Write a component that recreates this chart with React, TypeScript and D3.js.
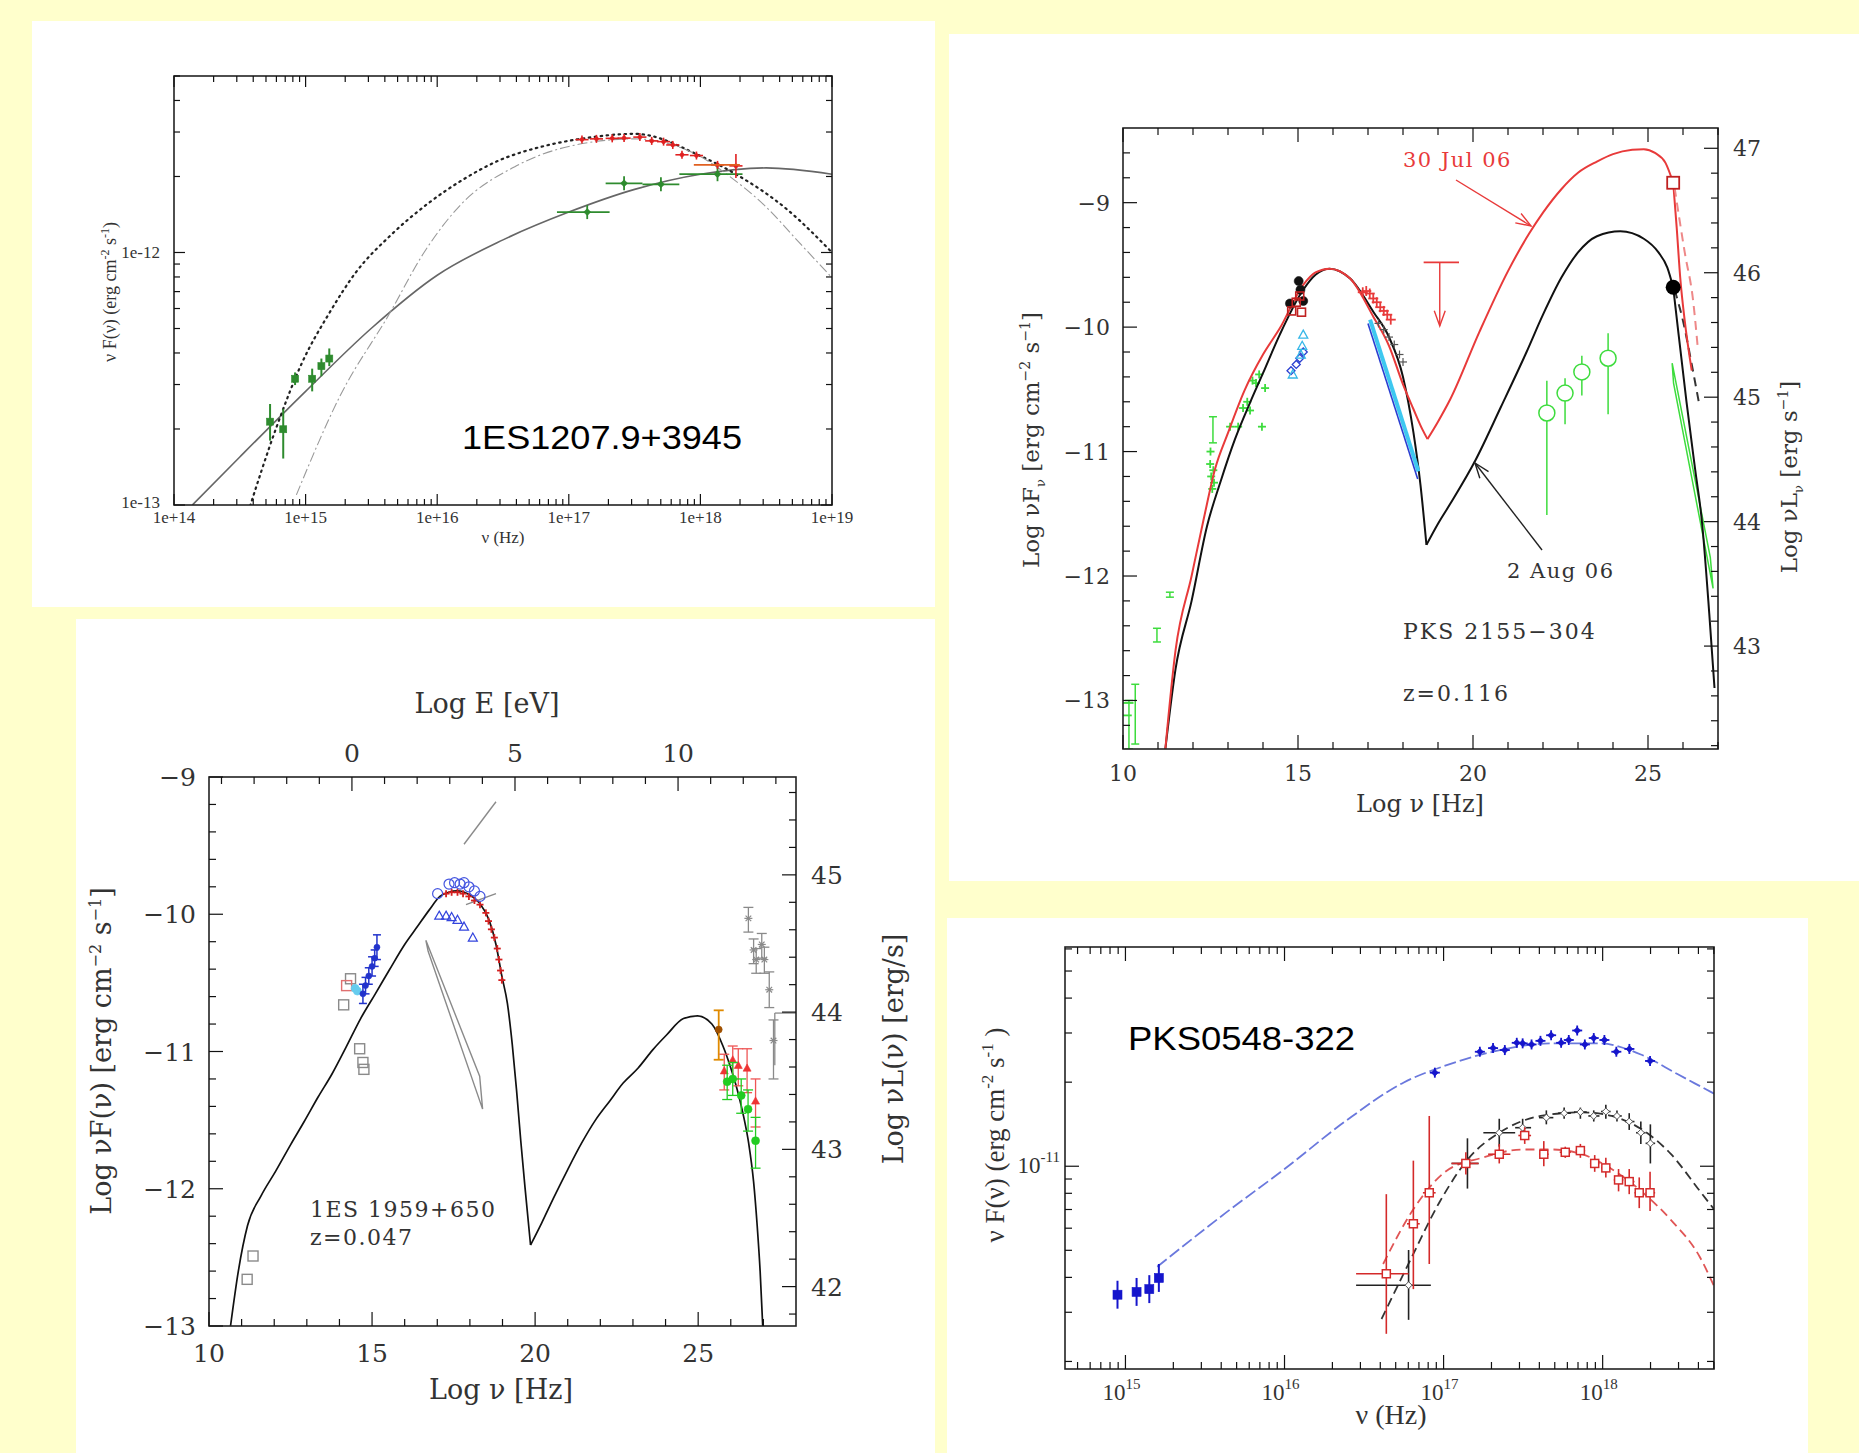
import React from 'react';
import * as d3 from 'd3';

type Pt = [number, number];
type Frame = { l: number; r: number; t: number; b: number };

const W = 1859;
const H = 1453;
const BG = '#ffffcc';

// ---------- Panel A : 1ES1207.9+3945  (log nu, log nuFnu) ----------
const aSolid: Pt[] = [[14.14, -13.0], [14.5, -12.81], [15.0, -12.55], [15.5, -12.3], [16.0, -12.09], [16.5, -11.95], [17.0, -11.84], [17.5, -11.75], [18.0, -11.69], [18.5, -11.665], [19.0, -11.69]];
const aDotted: Pt[] = [[14.55, -13.05], [14.78, -12.69], [14.97, -12.44], [15.18, -12.24], [15.38, -12.08], [15.65, -11.93], [15.92, -11.81], [16.2, -11.71], [16.45, -11.64], [16.8, -11.58], [17.09, -11.55], [17.5, -11.53], [18.01, -11.62], [18.27, -11.69], [18.66, -11.83], [19.0, -12.0]];
const aDashDot: Pt[] = [[14.93, -12.96], [15.26, -12.57], [15.64, -12.24], [15.9, -12.0], [16.18, -11.81], [16.59, -11.66], [17.0, -11.58], [17.5, -11.55], [18.0, -11.62], [18.2, -11.69], [18.5, -11.82], [18.75, -11.96], [19.0, -12.1]];
// [log nu, log F, lo, hi]
const aOptical = [[14.73, -12.67, -12.745, -12.6], [14.83, -12.7, -12.816, -12.62], [14.92, -12.5, -12.525, -12.475], [15.05, -12.5, -12.55, -12.46], [15.12, -12.45, -12.49, -12.42], [15.18, -12.42, -12.45, -12.38]];
// [log nu, log F, nu lo, nu hi]
const aXrayLow = [[17.14, -11.84, 16.91, 17.31], [17.42, -11.726, 17.28, 17.56], [17.7, -11.73, 17.56, 17.84], [18.13, -11.69, 17.84, 18.32]];
const aXrayHigh = [[17.1, -11.553], [17.21, -11.55], [17.33, -11.548], [17.42, -11.547], [17.54, -11.543], [17.63, -11.558], [17.72, -11.561], [17.79, -11.574], [17.86, -11.613], [17.97, -11.616], [18.13, -11.653], [18.27, -11.657]];
const aXLabels = ['1e+14', '1e+15', '1e+16', '1e+17', '1e+18', '1e+19'];
const aYLabels = ['1e-13', '1e-12'];

// ---------- Panel B : PKS 2155-304 ----------
const bRedSync: Pt[] = [[11.21, -13.39], [11.5, -12.6], [11.96, -12.0], [12.3, -11.55], [12.63, -11.14], [13.0, -10.85], [13.47, -10.51], [14.0, -10.22], [14.48, -10.01], [15.15, -9.66], [15.5, -9.56], [15.9, -9.53], [16.49, -9.61], [17.16, -9.92], [17.6, -10.15], [18.0, -10.46], [18.3, -10.66], [18.55, -10.82], [18.7, -10.9]];
const bRedIC: Pt[] = [[18.7, -10.9], [19.0, -10.76], [19.35, -10.58], [20.18, -10.04], [21.0, -9.55], [21.6, -9.25], [22.0, -9.08], [22.53, -8.89], [23.0, -8.76], [23.54, -8.67], [24.0, -8.61], [24.55, -8.575], [24.88, -8.57], [25.2, -8.6], [25.5, -8.68], [25.72, -8.84]];
const bRedTail: Pt[] = [[25.72, -8.84], [25.82, -9.2], [25.92, -9.6], [26.05, -9.95], [26.25, -10.35]];
const bRedTailDash: Pt[] = [[25.76, -8.88], [26.05, -9.4], [26.29, -9.79], [26.43, -10.19]];
const bBlackSync: Pt[] = [[11.21, -13.39], [11.5, -12.75], [11.96, -12.2], [12.4, -11.6], [12.8, -11.23], [13.2, -10.9], [13.64, -10.6], [14.0, -10.37], [14.48, -10.06], [15.15, -9.7], [15.5, -9.58], [15.9, -9.53], [16.49, -9.61], [17.16, -9.88], [17.6, -10.08], [18.0, -10.4], [18.3, -10.85], [18.5, -11.27], [18.67, -11.75]];
const bBlackIC: Pt[] = [[18.67, -11.75], [19.0, -11.58], [19.35, -11.42], [20.07, -11.07], [20.8, -10.64], [21.53, -10.2], [22.0, -9.9], [22.53, -9.6], [23.0, -9.4], [23.54, -9.27], [24.21, -9.23], [24.88, -9.29], [25.3, -9.4], [25.55, -9.52], [25.72, -9.68]];
const bBlackTail: Pt[] = [[25.72, -9.68], [25.85, -10.0], [26.1, -10.6], [26.35, -11.15], [26.54, -11.56], [26.75, -12.3], [26.9, -12.9]];
const bBlackTailDash: Pt[] = [[25.76, -9.7], [26.0, -9.95], [26.25, -10.3], [26.45, -10.6]];
const bBlueLine: Pt[] = [[17.0, -9.97], [18.42, -11.22]];
const bCyanLine: Pt[] = [[17.06, -9.94], [18.44, -11.16]];
const bGreenWedge: Pt[] = [[25.69, -10.29], [26.78, -11.85], [26.86, -12.1], [25.73, -10.45]];
const bGreenCircles = [[22.11, -10.69, -11.51, -10.43], [22.63, -10.53, -10.78, -10.41], [23.11, -10.36, -10.55, -10.23], [23.86, -10.25, -10.7, -10.05]];
const bGreenBeams = [[12.57, -10.84, -10.93, -10.72], [10.97, -12.47, -12.53, -12.42], [11.34, -12.15, -12.17, -12.13], [10.35, -13.05, -13.35, -12.87], [10.17, -13.15, -13.39, -13.0]];
const bGreenRadioH = [[10.0, 10.3, -13.02], [10.0, 10.25, -13.12]];
const bGreenIR: Pt[] = [[12.49, -11.1], [12.52, -11.2], [12.55, -11.3], [12.5, -11.0], [12.58, -11.15], [12.6, -11.25], [13.06, -10.8], [13.29, -10.8], [13.43, -10.65], [13.55, -10.6], [13.63, -10.67], [13.7, -10.43], [13.89, -10.38], [14.06, -10.49], [13.97, -10.8], [13.8, -10.45]];
const bBlackDots: Pt[] = [[14.77, -9.81], [15.02, -9.63], [15.15, -9.79], [15.07, -9.7]];
const bRedSquares: Pt[] = [[14.82, -9.87], [15.1, -9.88], [15.05, -9.75], [14.95, -9.8]];
const bCyanTri: Pt[] = [[15.15, -10.06], [15.12, -10.15], [15.08, -10.22], [14.85, -10.38]];
const bBlueDiam: Pt[] = [[14.8, -10.35], [14.95, -10.3], [15.05, -10.25], [15.15, -10.2]];
const bRedX: Pt[] = [[16.85, -9.72], [16.95, -9.71], [17.05, -9.73], [17.15, -9.77], [17.25, -9.8], [17.35, -9.84], [17.45, -9.87], [17.55, -9.9], [17.65, -9.94]];
const bGrayX: Pt[] = [[17.3, -9.97], [17.45, -10.02], [17.6, -10.08], [17.75, -10.14], [17.9, -10.22], [18.0, -10.28]];
const bUpperLimit = [18.59, 19.6, 19.05, -9.48, -9.99];
const bRedTeV: Pt = [25.72, -8.84];
const bBlackTeV: Pt = [25.72, -9.68];
const bLeftTicks = [-13, -12, -11, -10, -9];
const bRightTicks = [43, 44, 45, 46, 47];
const bXTicks = [10, 15, 20, 25];

// ---------- Panel C : 1ES 1959+650 ----------
const cSync: Pt[] = [[10.66, -13.0], [10.9, -12.6], [11.18, -12.27], [11.6, -12.05], [12.05, -11.87], [12.5, -11.68], [12.92, -11.51], [13.35, -11.33], [13.78, -11.16], [14.2, -10.97], [14.65, -10.76], [15.1, -10.58], [15.52, -10.41], [16.0, -10.22], [16.39, -10.09], [16.75, -9.97], [17.08, -9.87], [17.35, -9.84], [17.6, -9.83], [18.0, -9.86], [18.3, -9.92], [18.6, -10.05], [18.8, -10.22], [18.98, -10.45], [19.15, -10.65], [19.3, -10.95], [19.43, -11.28], [19.56, -11.65], [19.69, -11.99], [19.86, -12.41]];
const cIC: Pt[] = [[19.86, -12.41], [20.2, -12.25], [20.56, -12.07], [21.0, -11.86], [21.42, -11.67], [21.85, -11.5], [22.29, -11.36], [22.7, -11.23], [23.16, -11.12], [23.6, -10.99], [24.03, -10.88], [24.55, -10.76], [24.98, -10.74], [25.42, -10.8], [25.76, -10.96], [26.0, -11.12], [26.2, -11.28], [26.4, -11.48], [26.55, -11.67], [26.7, -11.95], [26.81, -12.27], [26.9, -12.6], [26.98, -13.0]];
const cBowTie: Pt[] = [[16.65, -10.19], [18.3, -11.18], [18.39, -11.42], [16.72, -10.27]];
const cGrayLine1: Pt[] = [[17.82, -9.49], [18.8, -9.18]];
const cGrayLine2: Pt[] = [[17.88, -9.93], [18.8, -9.85]];
const cBlueCircles: Pt[] = [[17.01, -9.85], [17.36, -9.78], [17.53, -9.77], [17.7, -9.78], [17.82, -9.77], [17.97, -9.8], [18.14, -9.83], [18.31, -9.87]];
const cBlueTri: Pt[] = [[17.06, -10.01], [17.27, -10.01], [17.44, -10.02], [17.62, -10.04], [17.82, -10.09], [18.09, -10.17]];
const cRedX: Pt[] = [[17.27, -9.85], [17.44, -9.84], [17.62, -9.84], [17.79, -9.85], [17.97, -9.87], [18.14, -9.9], [18.31, -9.93], [18.49, -9.99], [18.57, -10.05], [18.66, -10.11], [18.75, -10.17], [18.84, -10.25], [18.89, -10.33], [18.94, -10.41], [18.98, -10.48]];
const cBlueOpt = [[14.72, -10.58, 0.07], [14.8, -10.52, 0.06], [14.9, -10.45, 0.06], [15.0, -10.38, 0.07], [15.08, -10.32, 0.06], [15.15, -10.24, 0.09]];
const cCyanOpt: Pt[] = [[14.48, -10.54], [14.55, -10.56]];
const cGraySquares: Pt[] = [[14.13, -10.66], [14.34, -10.47], [14.62, -10.98], [14.72, -11.08], [14.75, -11.13], [11.17, -12.66], [11.35, -12.49]];
const cRedSquares: Pt[] = [[14.22, -10.52]];
const cOrange = [[25.63, -10.84, -11.06, -10.7]];
const cRedTri = [[25.8, -11.14, -11.28, -11.02], [26.06, -11.06, -11.2, -10.96], [26.23, -11.1, -11.25, -10.98], [26.5, -11.12, -11.3, -10.98], [26.76, -11.36, -11.55, -11.2]];
const cGreenDots = [[25.89, -11.22, -11.35, -11.1], [26.06, -11.2, -11.32, -11.08], [26.32, -11.32, -11.45, -11.2], [26.53, -11.42, -11.58, -11.28], [26.76, -11.65, -11.85, -11.48]];
const cGrayStars = [[26.54, -10.03, -10.13, -9.95], [26.7, -10.26, -10.36, -10.18], [26.78, -10.33, -10.43, -10.25], [26.95, -10.22, -10.32, -10.14], [27.03, -10.33, -10.43, -10.24], [27.18, -10.55, -10.68, -10.42], [27.31, -10.92, -11.2, -10.77]];
const cLeftTicks = [-13, -12, -11, -10, -9];
const cRightTicks = [42, 43, 44, 45];
const cXTicks = [10, 15, 20, 25];
const cTopTicks = [0, 5, 10];

// ---------- Panel D : PKS0548-322 ----------
const dBlueModel: Pt[] = [[15.2, -11.36], [15.63, -11.167], [16.0, -11.01], [16.38, -10.84], [16.75, -10.7], [17.01, -10.64], [17.31, -10.59], [17.68, -10.56], [17.98, -10.56], [18.24, -10.6], [18.47, -10.67], [18.7, -10.74]];
const dBlackModel: Pt[] = [[16.61, -11.547], [16.79, -11.337], [16.975, -11.128], [17.16, -10.97], [17.35, -10.88], [17.61, -10.82], [17.87, -10.807], [18.056, -10.82], [18.24, -10.866], [18.43, -10.957], [18.61, -11.088], [18.7, -11.154]];
const dRedModel: Pt[] = [[16.62, -11.35], [16.81, -11.154], [17.01, -11.02], [17.24, -10.97], [17.5, -10.94], [17.68, -10.94], [17.87, -10.957], [18.056, -11.01], [18.24, -11.088], [18.43, -11.193], [18.61, -11.324], [18.7, -11.429]];
const dBlueOpt = [[14.95, -11.46, 0.05], [15.07, -11.45, 0.05], [15.15, -11.44, 0.05], [15.21, -11.4, 0.05]];
const dBlueX: Pt[] = [[16.945, -10.665], [17.228, -10.59], [17.311, -10.577], [17.385, -10.584], [17.46, -10.558], [17.497, -10.56], [17.553, -10.564], [17.609, -10.551], [17.676, -10.531], [17.739, -10.558], [17.787, -10.548], [17.84, -10.514], [17.888, -10.564], [17.944, -10.541], [18.011, -10.548], [18.086, -10.59], [18.168, -10.58], [18.298, -10.623]];
// [log nu, log F, nu lo, nu hi, F lo, F hi]
const dRed = [[16.64, -11.385, 16.45, 16.78, -11.6, -11.1], [16.81, -11.206, 16.77, 16.85, -11.44, -10.98], [16.91, -11.095, 16.87, 16.95, -11.35, -10.82], [17.14, -10.99, 17.05, 17.22, -11.03, -10.95], [17.35, -10.957, 17.28, 17.42, -10.99, -10.92], [17.51, -10.89, 17.47, 17.55, -10.92, -10.86], [17.63, -10.957, 17.6, 17.66, -11.0, -10.91], [17.765, -10.95, 17.73, 17.8, -10.97, -10.93], [17.86, -10.944, 17.83, 17.89, -10.97, -10.92], [17.95, -10.99, 17.92, 17.98, -11.02, -10.96], [18.02, -11.006, 17.99, 18.05, -11.04, -10.97], [18.1, -11.049, 18.07, 18.13, -11.09, -11.01], [18.167, -11.055, 18.14, 18.2, -11.1, -11.01], [18.23, -11.095, 18.2, 18.26, -11.15, -11.04], [18.298, -11.095, 18.27, 18.33, -11.16, -11.02]];
const dBlack = [[16.78, -11.426, 16.45, 16.92, -11.55, -11.3], [17.15, -10.99, 17.05, 17.22, -11.08, -10.9], [17.35, -10.88, 17.25, 17.45, -10.93, -10.83], [17.497, -10.862, 17.45, 17.55, -10.89, -10.83], [17.646, -10.826, 17.6, 17.69, -10.85, -10.8], [17.758, -10.81, 17.72, 17.8, -10.83, -10.79], [17.86, -10.806, 17.82, 17.9, -10.83, -10.79], [17.944, -10.82, 17.91, 17.98, -10.84, -10.8], [18.02, -10.804, 17.99, 18.05, -10.83, -10.78], [18.09, -10.82, 18.06, 18.12, -10.84, -10.8], [18.167, -10.84, 18.14, 18.2, -10.87, -10.81], [18.24, -10.88, 18.21, 18.27, -10.92, -10.84], [18.3, -10.918, 18.27, 18.33, -10.99, -10.85]];
const dXTicks = [15, 16, 17, 18];

// ---------- helpers ----------
const clipId = (n: string) => `clip-${n}`;

function tickLines(side: string, pos: number[], len: number, f: Frame, k: string, w = 1.2, color = '#111') {
  return pos.map((p, i) => {
    let a = { x1: 0, y1: 0, x2: 0, y2: 0 };
    if (side === 'bottom') a = { x1: p, x2: p, y1: f.b, y2: f.b - len };
    if (side === 'top') a = { x1: p, x2: p, y1: f.t, y2: f.t + len };
    if (side === 'left') a = { x1: f.l, x2: f.l + len, y1: p, y2: p };
    if (side === 'right') a = { x1: f.r, x2: f.r - len, y1: p, y2: p };
    return <line key={`${k}${i}`} {...a} stroke={color} strokeWidth={w} />;
  });
}

function marker(kind: string, cx: number, cy: number, s: number, color: string, key: string, sw = 1.3) {
  const open = { fill: 'none', stroke: color, strokeWidth: sw };
  const full = { fill: color, stroke: color, strokeWidth: 0.6 };
  switch (kind) {
    case 'sq': return <rect key={key} x={cx - s} y={cy - s} width={2 * s} height={2 * s} {...full} />;
    case 'osq': return <rect key={key} x={cx - s} y={cy - s} width={2 * s} height={2 * s} {...open} />;
    case 'dot': return <circle key={key} cx={cx} cy={cy} r={s} {...full} />;
    case 'odot': return <circle key={key} cx={cx} cy={cy} r={s} {...open} />;
    case 'tri': return <path key={key} d={`M${cx},${cy - s}L${cx + s},${cy + s * 0.8}L${cx - s},${cy + s * 0.8}Z`} {...full} />;
    case 'otri': return <path key={key} d={`M${cx},${cy - s}L${cx + s},${cy + s * 0.8}L${cx - s},${cy + s * 0.8}Z`} {...open} />;
    case 'diam': return <path key={key} d={`M${cx},${cy - s}L${cx + s},${cy}L${cx},${cy + s}L${cx - s},${cy}Z`} {...full} />;
    case 'odiam': return <path key={key} d={`M${cx},${cy - s}L${cx + s},${cy}L${cx},${cy + s}L${cx - s},${cy}Z`} {...open} fill="#fff" />;
    case 'star':
      return (
        <g key={key} stroke={color} strokeWidth={1.2}>
          <line x1={cx - s} x2={cx + s} y1={cy} y2={cy} />
          <line x1={cx - s * 0.7} x2={cx + s * 0.7} y1={cy - s * 0.7} y2={cy + s * 0.7} />
          <line x1={cx - s * 0.7} x2={cx + s * 0.7} y1={cy + s * 0.7} y2={cy - s * 0.7} />
        </g>
      );
    default:
      return (
        <g key={key} stroke={color} strokeWidth={sw}>
          <line x1={cx - s} x2={cx + s} y1={cy} y2={cy} />
          <line x1={cx} x2={cx} y1={cy - s} y2={cy + s} />
        </g>
      );
  }
}

function vbar(x: number, y1: number, y2: number, color: string, key: string, cap = 0, w = 1.4) {
  return (
    <g key={key} stroke={color} strokeWidth={w}>
      <line x1={x} x2={x} y1={y1} y2={y2} />
      {cap > 0 && <line x1={x - cap} x2={x + cap} y1={y1} y2={y1} />}
      {cap > 0 && <line x1={x - cap} x2={x + cap} y1={y2} y2={y2} />}
    </g>
  );
}

function hbar(x1: number, x2: number, y: number, color: string, key: string, w = 1.4) {
  return <line key={key} x1={x1} x2={x2} y1={y} y2={y} stroke={color} strokeWidth={w} />;
}

function arrow(x1: number, y1: number, x2: number, y2: number, color: string, key: string) {
  const ang = Math.atan2(y2 - y1, x2 - x1);
  const L = 16, sp = 0.35;
  const p1 = [x2 - L * Math.cos(ang - sp), y2 - L * Math.sin(ang - sp)];
  const p2 = [x2 - L * Math.cos(ang + sp), y2 - L * Math.sin(ang + sp)];
  return (
    <g key={key} stroke={color} strokeWidth={1.4} fill="none">
      <line x1={x1} y1={y1} x2={x2} y2={y2} />
      <polyline points={`${p1[0]},${p1[1]} ${x2},${y2} ${p2[0]},${p2[1]}`} />
    </g>
  );
}

const serif = 'DejaVu Serif';
const times = 'Liberation Serif';

// ---------- Panel A ----------
function PanelA() {
  const f: Frame = { l: 174, r: 832, t: 76, b: 505 };
  const x = d3.scaleLog().domain([1e14, 1e19]).range([f.l, f.r]);
  const y = d3.scaleLog().domain([1e-13, 5e-12]).range([f.b, f.t]);
  const X = (v: number) => x(10 ** v);
  const Y = (v: number) => y(10 ** v);
  const line = d3.line<Pt>().x(d => X(d[0])).y(d => Y(d[1])).curve(d3.curveMonotoneX);
  const xt = x.ticks();
  const yt = y.ticks();
  const isMajor = (v: number) => Math.abs(Math.log10(v) - Math.round(Math.log10(v))) < 1e-6;
  const xMaj = xt.filter(isMajor).map(v => x(v));
  const xMin = xt.filter(v => !isMajor(v)).map(v => x(v));
  const yMaj = yt.filter(isMajor).map(v => y(v));
  const yMin = yt.filter(v => !isMajor(v)).map(v => y(v));
  const green = '#2e8b2e';
  const red = '#e02020';
  return (
    <g>
      <rect x={32} y={21} width={903} height={586} fill="#fff" />
      <defs>
        <clipPath id={clipId('a')}><rect x={f.l} y={f.t} width={f.r - f.l} height={f.b - f.t} /></clipPath>
      </defs>
      <g clipPath={`url(#${clipId('a')})`} fill="none">
        <path d={line(aSolid) || ''} stroke="#666" strokeWidth={1.6} />
        <path d={line(aDotted) || ''} stroke="#222" strokeWidth={2.2} strokeDasharray="1.5,4.5" strokeLinecap="round" />
        <path d={line(aDashDot) || ''} stroke="#999" strokeWidth={1.1} strokeDasharray="10,3,2,3" />
      </g>
      {aOptical.map((d, i) => (
        <g key={`ao${i}`}>
          {vbar(X(d[0]), Y(d[2]), Y(d[3]), green, `aov${i}`, 0, 2)}
          {marker('sq', X(d[0]), Y(d[1]), 3.5, green, `aom${i}`)}
        </g>
      ))}
      {aXrayLow.map((d, i) => (
        <g key={`ax${i}`}>
          {hbar(X(d[2]), X(d[3]), Y(d[1]), green, `axh${i}`, 1.8)}
          {vbar(X(d[0]), Y(d[1]) - 7, Y(d[1]) + 7, green, `axv${i}`, 0, 1.8)}
          {marker('diam', X(d[0]), Y(d[1]), 3.5, green, `axm${i}`)}
        </g>
      ))}
      {aXrayHigh.map((d, i) => (
        <g key={`ar${i}`}>
          {hbar(X(d[0] - 0.05), X(d[0] + 0.05), Y(d[1]), red, `arh${i}`, 1.6)}
          {vbar(X(d[0]), Y(d[1]) - (i === 11 ? 12 : 4), Y(d[1]) + (i === 11 ? 12 : 4), red, `arv${i}`, 0, 1.6)}
          {marker('dot', X(d[0]), Y(d[1]), 2, red, `arm${i}`)}
        </g>
      ))}
      {hbar(X(17.95), X(18.3), Y(-11.653), '#e06020', 'arw', 1.6)}
      <rect x={f.l} y={f.t} width={f.r - f.l} height={f.b - f.t} fill="none" stroke="#222" strokeWidth={1.6} />
      {tickLines('bottom', xMaj, 11, f, 'abM')}
      {tickLines('bottom', xMin, 6, f, 'abm')}
      {tickLines('top', xMaj, 11, f, 'atM')}
      {tickLines('top', xMin, 6, f, 'atm')}
      {tickLines('left', yMaj, 11, f, 'alM')}
      {tickLines('left', yMin, 6, f, 'alm')}
      {tickLines('right', yMaj, 11, f, 'arM')}
      {tickLines('right', yMin, 6, f, 'arm')}
      <g fontFamily={times} fontSize={17} fill="#333">
        {aXLabels.map((t, i) => (
          <text key={t} x={x(10 ** (14 + i))} y={523} textAnchor="middle">{t}</text>
        ))}
        {aYLabels.map((t, i) => (
          <text key={t} x={160} y={y(10 ** (-13 + i)) + (i === 0 ? 3 : 6)} textAnchor="end">{t}</text>
        ))}
        <text x={503} y={543} textAnchor="middle">ν  (Hz)</text>
        <text transform="translate(116,292) rotate(-90)" textAnchor="middle" fontSize={18}>
          ν F(ν)        (erg cm<tspan dy={-7} fontSize={12}>-2</tspan><tspan dy={7}> s</tspan><tspan dy={-7} fontSize={12}>-1</tspan><tspan dy={7}>)</tspan>
        </text>
      </g>
      <text x={462} y={449} fontFamily="Liberation Sans, Arial" fontSize={34} fill="#000" textLength={280} lengthAdjust="spacingAndGlyphs">1ES1207.9+3945</text>
    </g>
  );
}

// ---------- Panel B ----------
function PanelB() {
  const f: Frame = { l: 1123, r: 1718, t: 128, b: 749 };
  const x = d3.scaleLinear().domain([10, 27]).range([f.l, f.r]);
  const y = d3.scaleLinear().domain([-13.39, -8.4]).range([f.b, f.t]);
  const off = 55.563;
  const yR = d3.scaleLinear().domain([-13.39 + off, -8.4 + off]).range([f.b, f.t]);
  const line = d3.line<Pt>().x(d => x(d[0])).y(d => y(d[1])).curve(d3.curveMonotoneX);
  const straight = d3.line<Pt>().x(d => x(d[0])).y(d => y(d[1]));
  const xMin = d3.range(10, 28).filter(v => v % 5 !== 0).map(v => x(v));
  const xMaj = bXTicks.map(v => x(v));
  const lMin = d3.range(-66, -42).map(v => v / 5).filter(v => !Number.isInteger(v)).map(v => y(v));
  const lMaj = bLeftTicks.map(v => y(v));
  const rMin = d3.range(211, 236).map(v => v / 5).filter(v => !Number.isInteger(v)).map(v => yR(v));
  const rMaj = bRightTicks.map(v => yR(v));
  const red = '#e83a3a';
  const green = '#3ddc3d';
  return (
    <g>
      <rect x={949} y={34} width={910} height={847} fill="#fff" />
      <defs>
        <clipPath id={clipId('b')}><rect x={f.l} y={f.t} width={f.r - f.l} height={f.b - f.t} /></clipPath>
      </defs>
      <g clipPath={`url(#${clipId('b')})`}>
        {/* green data */}
        <path d={(straight(bGreenWedge) || '') + 'Z'} fill="none" stroke={green} strokeWidth={1.5} />
        {bGreenCircles.map((d, i) => (
          <g key={`bgc${i}`}>
            {vbar(x(d[0]), y(d[2]), y(d[3]), green, `bgcv${i}`, 0, 1.5)}
            <circle cx={x(d[0])} cy={y(d[1])} r={8} fill="#fff" stroke={green} strokeWidth={1.5} />
          </g>
        ))}
        {bGreenBeams.map((d, i) => vbar(x(d[0]), y(d[2]), y(d[3]), green, `bgb${i}`, 4, 1.5))}
        {bGreenRadioH.map((d, i) => hbar(x(d[0]), x(d[1]), y(d[2]), green, `bgr${i}`, 1.8))}
        {bGreenIR.map((d, i) => marker('x', x(d[0]), y(d[1]), 4, green, `bgi${i}`, 1.8))}
        {/* model curves */}
        <g fill="none" strokeWidth={2}>
          <path d={line(bBlackSync) || ''} stroke="#111" />
          <path d={line(bBlackIC) || ''} stroke="#111" />
          <path d={line(bBlackTail) || ''} stroke="#111" />
          <path d={line(bBlackTailDash) || ''} stroke="#333" strokeDasharray="9,6" />
          <path d={line(bRedSync) || ''} stroke={red} />
          <path d={line(bRedIC) || ''} stroke={red} />
          <path d={line(bRedTail) || ''} stroke={red} />
          <path d={line(bRedTailDash) || ''} stroke="#e88" strokeDasharray="9,6" />
          <path d={straight(bCyanLine) || ''} stroke="#3ec8f0" strokeWidth={4} />
          <path d={straight(bBlueLine) || ''} stroke="#2a3ed0" strokeWidth={1.6} />
        </g>
        {bGrayX.map((d, i) => marker('x', x(d[0]), y(d[1]), 4, '#555', `bgx${i}`, 1.2))}
        {bRedX.map((d, i) => marker('x', x(d[0]), y(d[1]), 5, red, `brx${i}`, 1.8))}
        {bBlueDiam.map((d, i) => marker('odiam', x(d[0]), y(d[1]), 4, '#2a3ed0', `bbd${i}`))}
        {bCyanTri.map((d, i) => marker('otri', x(d[0]), y(d[1]), 4.5, '#38b8e8', `bct${i}`))}
        {bBlackDots.map((d, i) => marker('dot', x(d[0]), y(d[1]), 4.5, '#111', `bbk${i}`))}
        {bRedSquares.map((d, i) => marker('osq', x(d[0]), y(d[1]), 4, '#c02020', `brs${i}`, 1.6))}
        {/* upper limit */}
        {hbar(x(bUpperLimit[0]), x(bUpperLimit[1]), y(bUpperLimit[3]), red, 'bul', 1.6)}
        {arrow(x(bUpperLimit[2]), y(bUpperLimit[3]), x(bUpperLimit[2]), y(bUpperLimit[4]), red, 'bua')}
        {/* TeV points */}
        <rect x={x(bRedTeV[0]) - 6} y={y(bRedTeV[1]) - 6} width={12} height={12} fill="#fff" stroke="#c02020" strokeWidth={1.8} />
        <circle cx={x(bBlackTeV[0])} cy={y(bBlackTeV[1])} r={7.5} fill="#000" />
      </g>
      <rect x={f.l} y={f.t} width={f.r - f.l} height={f.b - f.t} fill="none" stroke="#222" strokeWidth={1.6} />
      {tickLines('bottom', xMaj, 14, f, 'bbM')}
      {tickLines('bottom', xMin, 7, f, 'bbm')}
      {tickLines('top', xMaj, 14, f, 'btM')}
      {tickLines('top', xMin, 7, f, 'btm')}
      {tickLines('left', lMaj, 14, f, 'blM')}
      {tickLines('left', lMin, 7, f, 'blm')}
      {tickLines('right', rMaj, 14, f, 'brM')}
      {tickLines('right', rMin, 7, f, 'brm')}
      <g fontFamily={serif} fontSize={22} fill="#333">
        {bXTicks.map(v => <text key={`bxl${v}`} x={x(v)} y={781} textAnchor="middle">{v}</text>)}
        {bLeftTicks.map(v => <text key={`bll${v}`} x={1110} y={y(v) + 8} textAnchor="end">{`−${-v}`}</text>)}
        {bRightTicks.map(v => <text key={`brl${v}`} x={1733} y={yR(v) + 8}>{v}</text>)}
        <text x={1420} y={812} textAnchor="middle" fontSize={24}>Log ν [Hz]</text>
        <text transform="translate(1039,440) rotate(-90)" textAnchor="middle" fontSize={23}>
          Log νF<tspan dy={6} fontSize={13}>ν</tspan><tspan dy={-6}> [erg cm</tspan><tspan dy={-9} fontSize={14}>−2</tspan><tspan dy={9}> s</tspan><tspan dy={-9} fontSize={14}>−1</tspan><tspan dy={9}>]</tspan>
        </text>
        <text transform="translate(1797,477) rotate(-90)" textAnchor="middle" fontSize={23}>
          Log νL<tspan dy={6} fontSize={13}>ν</tspan><tspan dy={-6}> [erg s</tspan><tspan dy={-9} fontSize={14}>−1</tspan><tspan dy={9}>]</tspan>
        </text>
        <text x={1403} y={167} fill="#e83a3a" fontSize={21} letterSpacing={1.5}>30 Jul 06</text>
        <text x={1507} y={578} fontSize={21} letterSpacing={1.5}>2 Aug 06</text>
        <text x={1403} y={639} fontSize={22} letterSpacing={2}>PKS 2155−304</text>
        <text x={1403} y={701} fontSize={22} letterSpacing={2}>z=0.116</text>
      </g>
      {arrow(1456, 180, 1531, 226, '#e83a3a', 'bar')}
      {arrow(1542, 550, 1475, 463, '#222', 'bab')}
    </g>
  );
}

// ---------- Panel C ----------
function PanelC() {
  const f: Frame = { l: 209, r: 796, t: 777, b: 1326 };
  const x = d3.scaleLinear().domain([10, 28]).range([f.l, f.r]);
  const y = d3.scaleLinear().domain([-13, -9]).range([f.b, f.t]);
  const eOff = 14.383;
  const xT = d3.scaleLinear().domain([10 - eOff, 28 - eOff]).range([f.l, f.r]);
  const lOff = 54.713;
  const yR = d3.scaleLinear().domain([-13 + lOff, -9 + lOff]).range([f.b, f.t]);
  const line = d3.line<Pt>().x(d => x(d[0])).y(d => y(d[1])).curve(d3.curveMonotoneX);
  const straight = d3.line<Pt>().x(d => x(d[0])).y(d => y(d[1]));
  const xMin = d3.range(11, 28).filter(v => v % 5 !== 0).map(v => x(v));
  const xMaj = cXTicks.map(v => x(v));
  const tMin = d3.range(-4, 14).filter(v => v % 5 !== 0).map(v => xT(v));
  const tMaj = cTopTicks.map(v => xT(v));
  const lMin = d3.range(-64, -45).map(v => v / 5).filter(v => !Number.isInteger(v)).map(v => y(v));
  const lMaj = cLeftTicks.map(v => y(v));
  const rMin = d3.range(209, 229).map(v => v / 5).filter(v => !Number.isInteger(v)).map(v => yR(v));
  const rMaj = cRightTicks.map(v => yR(v));
  const blue = '#2233cc';
  const red = '#d42020';
  const gray = '#8a8a8a';
  const green = '#22cc22';
  return (
    <g>
      <rect x={76} y={619} width={859} height={834} fill="#fff" />
      <defs>
        <clipPath id={clipId('c')}><rect x={f.l} y={f.t} width={f.r - f.l} height={f.b - f.t} /></clipPath>
      </defs>
      <g clipPath={`url(#${clipId('c')})`}>
        <path d={(straight(cBowTie) || '') + 'Z'} fill="none" stroke={gray} strokeWidth={1.4} />
        <path d={straight(cGrayLine1) || ''} stroke={gray} strokeWidth={1.4} />
        <path d={straight(cGrayLine2) || ''} stroke={gray} strokeWidth={1.4} />
        <path d={line(cSync) || ''} fill="none" stroke="#111" strokeWidth={1.7} />
        <path d={line(cIC) || ''} fill="none" stroke="#111" strokeWidth={1.7} />
        {cGraySquares.map((d, i) => marker('osq', x(d[0]), y(d[1]), 5, gray, `cgs${i}`, 1.4))}
        {cRedSquares.map((d, i) => marker('osq', x(d[0]), y(d[1]), 5, '#e07070', `crs${i}`, 1.4))}
        {cCyanOpt.map((d, i) => marker('dot', x(d[0]), y(d[1]), 4, '#66ccee', `cco${i}`))}
        {cBlueOpt.map((d, i) => (
          <g key={`cbo${i}`}>
            {vbar(x(d[0]), y(d[1] - d[2]), y(d[1] + d[2]), blue, `cbov${i}`, 4, 1.5)}
            {marker('dot', x(d[0]), y(d[1]), 3, blue, `cbom${i}`)}
          </g>
        ))}
        {cBlueTri.map((d, i) => marker('otri', x(d[0]), y(d[1]), 4.5, '#3344dd', `cbt${i}`, 1.2))}
        {cRedX.map((d, i) => marker('x', x(d[0]), y(d[1]), 3.5, red, `crx${i}`, 1.8))}
        {cBlueCircles.map((d, i) => marker('odot', x(d[0]), y(d[1]), 5, '#4455e0', `cbc${i}`, 1.2))}
        {cGrayStars.map((d, i) => (
          <g key={`cgst${i}`}>
            {vbar(x(d[0]), y(d[2]), y(d[3]), gray, `cgsv${i}`, 5, 1.3)}
            {marker('star', x(d[0]), y(d[1]), 4, gray, `cgsm${i}`)}
          </g>
        ))}
        {hbar(x(27.35), x(28), y(-10.72), gray, 'cgh', 1.3)}
        {vbar(x(27.35), y(-11.1), y(-10.72), gray, 'cgv', 0, 1.3)}
        {cOrange.map((d, i) => (
          <g key={`cor${i}`}>
            {vbar(x(d[0]), y(d[2]), y(d[3]), '#e08a00', `corv${i}`, 5, 1.8)}
            {marker('dot', x(d[0]), y(d[1]), 3.5, '#a05000', `corm${i}`)}
          </g>
        ))}
        {cRedTri.map((d, i) => (
          <g key={`crt${i}`}>
            {vbar(x(d[0]), y(d[2]), y(d[3]), '#ee5555', `crtv${i}`, 5, 1.3)}
            {marker('tri', x(d[0]), y(d[1]), 4, '#ee3333', `crtm${i}`)}
          </g>
        ))}
        {cGreenDots.map((d, i) => (
          <g key={`cgd${i}`}>
            {vbar(x(d[0]), y(d[2]), y(d[3]), green, `cgdv${i}`, 5, 1.3)}
            {marker('dot', x(d[0]), y(d[1]), 4, green, `cgdm${i}`)}
          </g>
        ))}
      </g>
      <rect x={f.l} y={f.t} width={f.r - f.l} height={f.b - f.t} fill="none" stroke="#222" strokeWidth={1.6} />
      {tickLines('bottom', xMaj, 14, f, 'cbM')}
      {tickLines('bottom', xMin, 7, f, 'cbm')}
      {tickLines('top', tMaj, 14, f, 'ctM')}
      {tickLines('top', tMin, 7, f, 'ctm')}
      {tickLines('left', lMaj, 14, f, 'clM')}
      {tickLines('left', lMin, 7, f, 'clm')}
      {tickLines('right', rMaj, 14, f, 'crM')}
      {tickLines('right', rMin, 7, f, 'crm')}
      <g fontFamily={serif} fontSize={25} fill="#333">
        {cXTicks.map(v => <text key={`cxl${v}`} x={x(v)} y={1362} textAnchor="middle">{v}</text>)}
        {cTopTicks.map(v => <text key={`ctl${v}`} x={xT(v)} y={762} textAnchor="middle">{v}</text>)}
        {cLeftTicks.map(v => <text key={`cll${v}`} x={196} y={y(v) + 9} textAnchor="end">{`−${-v}`}</text>)}
        {cRightTicks.map(v => <text key={`crl${v}`} x={811} y={yR(v) + 9}>{v}</text>)}
        <text x={501} y={1399} textAnchor="middle" fontSize={27}>Log ν [Hz]</text>
        <text x={487} y={713} textAnchor="middle" fontSize={27}>Log E [eV]</text>
        <text transform="translate(111,1051) rotate(-90)" textAnchor="middle" fontSize={27}>
          Log νF(ν) [erg cm<tspan dy={-10} fontSize={16}>−2</tspan><tspan dy={10}> s</tspan><tspan dy={-10} fontSize={16}>−1</tspan><tspan dy={10}>]</tspan>
        </text>
        <text transform="translate(903,1049) rotate(-90)" textAnchor="middle" fontSize={27}>Log νL(ν) [erg/s]</text>
        <text x={310} y={1217} fontSize={22} letterSpacing={1.5}>1ES 1959+650</text>
        <text x={310} y={1245} fontSize={22} letterSpacing={1.5}>z=0.047</text>
      </g>
    </g>
  );
}

// ---------- Panel D ----------
function PanelD() {
  const f: Frame = { l: 1065, r: 1714, t: 947, b: 1369 };
  const x = d3.scaleLog().domain([10 ** 14.62, 10 ** 18.7]).range([f.l, f.r]);
  const y = d3.scaleLog().domain([10 ** -11.726, 10 ** -10.215]).range([f.b, f.t]);
  const X = (v: number) => x(10 ** v);
  const Y = (v: number) => y(10 ** v);
  const line = d3.line<Pt>().x(d => X(d[0])).y(d => Y(d[1])).curve(d3.curveMonotoneX);
  const isMajor = (v: number) => Math.abs(Math.log10(v) - Math.round(Math.log10(v))) < 1e-6;
  const xt = x.ticks();
  const yt = y.ticks();
  const xMaj = xt.filter(isMajor).map(v => x(v));
  const xMin = xt.filter(v => !isMajor(v)).map(v => x(v));
  const yMaj = yt.filter(isMajor).map(v => y(v));
  const yMin = yt.filter(v => !isMajor(v)).map(v => y(v));
  const blue = '#1515cc';
  const red = '#d42a2a';
  return (
    <g>
      <rect x={947} y={918} width={861} height={535} fill="#fff" />
      <defs>
        <clipPath id={clipId('d')}><rect x={f.l} y={f.t} width={f.r - f.l} height={f.b - f.t} /></clipPath>
      </defs>
      <g clipPath={`url(#${clipId('d')})`}>
        <g fill="none" strokeWidth={1.8}>
          <path d={line(dBlueModel) || ''} stroke="#6a78dd" strokeDasharray="12,4" />
          <path d={line(dBlackModel) || ''} stroke="#333" strokeDasharray="9,5" />
          <path d={line(dRedModel) || ''} stroke="#e05555" strokeDasharray="9,5" />
        </g>
        {dBlueOpt.map((d, i) => (
          <g key={`dbo${i}`}>
            {vbar(X(d[0]), Y(d[1] - d[2]), Y(d[1] + d[2]), blue, `dbov${i}`, 0, 2)}
            {marker('sq', X(d[0]), Y(d[1]), 4.5, blue, `dbom${i}`)}
          </g>
        ))}
        {dBlueX.map((d, i) => (
          <g key={`dbx${i}`}>
            {marker('x', X(d[0]), Y(d[1]), 5, blue, `dbxx${i}`, 1.8)}
            {marker('diam', X(d[0]), Y(d[1]), 3.5, blue, `dbxm${i}`)}
          </g>
        ))}
        {dBlack.map((d, i) => (
          <g key={`dk${i}`}>
            {hbar(X(d[2]), X(d[3]), Y(d[1]), '#222', `dkh${i}`, 1.6)}
            {vbar(X(d[0]), Y(d[4]), Y(d[5]), '#222', `dkv${i}`, 0, 1.6)}
            {marker('odiam', X(d[0]), Y(d[1]), 3.5, '#555', `dkm${i}`, 1)}
          </g>
        ))}
        {dRed.map((d, i) => (
          <g key={`dr${i}`}>
            {hbar(X(d[2]), X(d[3]), Y(d[1]), red, `drh${i}`, 1.6)}
            {vbar(X(d[0]), Y(d[4]), Y(d[5]), red, `drv${i}`, 0, 1.6)}
            <rect x={X(d[0]) - 4} y={Y(d[1]) - 4} width={8} height={8} fill="#fff" stroke={red} strokeWidth={1.5} />
          </g>
        ))}
      </g>
      <rect x={f.l} y={f.t} width={f.r - f.l} height={f.b - f.t} fill="none" stroke="#222" strokeWidth={1.6} />
      {tickLines('bottom', xMaj, 14, f, 'dbM')}
      {tickLines('bottom', xMin, 7, f, 'dbm')}
      {tickLines('top', xMaj, 14, f, 'dtM')}
      {tickLines('top', xMin, 7, f, 'dtm')}
      {tickLines('left', yMaj, 14, f, 'dlM')}
      {tickLines('left', yMin, 7, f, 'dlm')}
      {tickLines('right', yMaj, 14, f, 'drM')}
      {tickLines('right', yMin, 7, f, 'drm')}
      <g fontFamily={times} fill="#333">
        {dXTicks.map(v => (
          <text key={`dxl${v}`} x={X(v) - 4} y={1400} textAnchor="middle" fontSize={23}>
            10<tspan dy={-11} fontSize={15}>{v}</tspan>
          </text>
        ))}
        <text x={1060} y={1173} textAnchor="end" fontSize={23}>10<tspan dy={-11} fontSize={15}>-11</tspan></text>
        <text x={1391} y={1424} textAnchor="middle" fontSize={28}>ν    (Hz)</text>
        <text transform="translate(1004,1135) rotate(-90)" textAnchor="middle" fontSize={27}>
          ν F(ν)    (erg cm<tspan dy={-11} fontSize={17}>-2</tspan><tspan dy={11}> s</tspan><tspan dy={-11} fontSize={17}>-1</tspan><tspan dy={11}> )</tspan>
        </text>
      </g>
      <text x={1128} y={1050} fontFamily="Liberation Sans, Arial" fontSize={34} fill="#000" textLength={227} lengthAdjust="spacingAndGlyphs">PKS0548-322</text>
    </g>
  );
}

export default function App() {
  return (
    <svg
      width={W}
      height={H}
      viewBox={`0 0 ${W} ${H}`}
      style={{ position: 'absolute', left: 0, top: 0, display: 'block' }}
    >
      <rect width={W} height={H} fill={BG} />
      <PanelA />
      <PanelB />
      <PanelC />
      <PanelD />
    </svg>
  );
}
